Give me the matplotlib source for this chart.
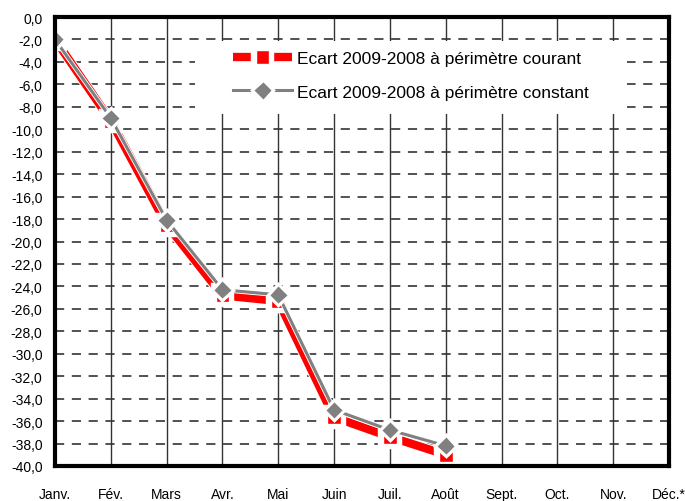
import numpy as np
import matplotlib
matplotlib.use("Agg")
import matplotlib.pyplot as plt
import matplotlib.patheffects as pe
from matplotlib.patches import Rectangle
from matplotlib import font_manager

# data
months = ['Janv.', 'Fév.', 'Mars', 'Avr.', 'Mai', 'Juin', 'Juil.', 'Août',
          'Sept.', 'Oct.', 'Nov.', 'Déc.*']
ecart_courant = [-2.0, -9.25, -18.5, -24.8, -25.3, -35.65, -37.4, -39.0]
ecart_constant = [-2.0, -9.0, -18.1, -24.3, -24.75, -35.0, -36.8, -38.2]
label_courant = "Ecart 2009-2008 à périmètre courant"
label_constant = "Ecart 2009-2008 à périmètre constant"
y_ticks = np.arange(0, -42, -2)

# narrow Arial-like font if available
names = {f.name for f in font_manager.fontManager.ttflist}
font = 'Liberation Sans Narrow' if 'Liberation Sans Narrow' in names else 'Liberation Sans'
plt.rcParams['font.family'] = [font, 'DejaVu Sans']

fig = plt.figure(figsize=(6.85, 5.02), dpi=100)
ax = fig.add_axes([55 / 685, 1 - 467 / 502, 614 / 685, 449 / 502])

x = np.arange(len(months))
ax.set_xlim(0, len(months) - 1)
ax.set_ylim(-40, 0)

# grid
for v in y_ticks[1:-1]:
    ax.axhline(v, color='#222222', lw=1.1, ls=(0, (6, 5)), zorder=0.5)
for xi in x[1:-1]:
    ax.axvline(xi, color='#333333', lw=1.0, zorder=0.5)

# white legend area
ax.add_patch(Rectangle(((195 - 55) / 614, (467 - 115) / 449), (627 - 195) / 614, 73 / 449,
                       transform=ax.transAxes, facecolor='white', edgecolor='none', zorder=1))

n = len(ecart_courant)
ax.plot(x[:n], ecart_courant, color='red', lw=6, marker='s', markersize=10,
        markeredgecolor='white', markeredgewidth=1, solid_capstyle='butt', zorder=3,
        path_effects=[pe.Stroke(linewidth=7.5, foreground='white'), pe.Normal()],
        label=label_courant)
ax.plot(x[:n], ecart_constant, color='#808080', lw=2.2, marker='D', markersize=9.5,
        markeredgecolor='white', markeredgewidth=1, zorder=4,
        path_effects=[pe.Stroke(linewidth=3.5, foreground='white'), pe.Normal()],
        label=label_constant)

ax.set_xticks(x)
ax.set_xticklabels(months, fontsize=10)
ax.set_yticks(y_ticks)
ax.set_yticklabels([f"{v:.1f}".replace('.', ',') for v in y_ticks], fontsize=10)
ax.tick_params(axis='both', length=0)
ax.tick_params(axis='x', pad=15)
ax.tick_params(axis='y', pad=9)

for s in ax.spines.values():
    s.set_linewidth(3)
    s.set_color('black')
    s.set_zorder(6)

leg = ax.legend(loc='upper left', bbox_to_anchor=((233 - 55) / 614, (467 - 52) / 449),
                frameon=False, fontsize=12.5, handlelength=3.4, handletextpad=0.3,
                labelspacing=1.05, borderpad=0, borderaxespad=0)
leg.set_zorder(7)

fig.savefig('out.png', dpi=100)
